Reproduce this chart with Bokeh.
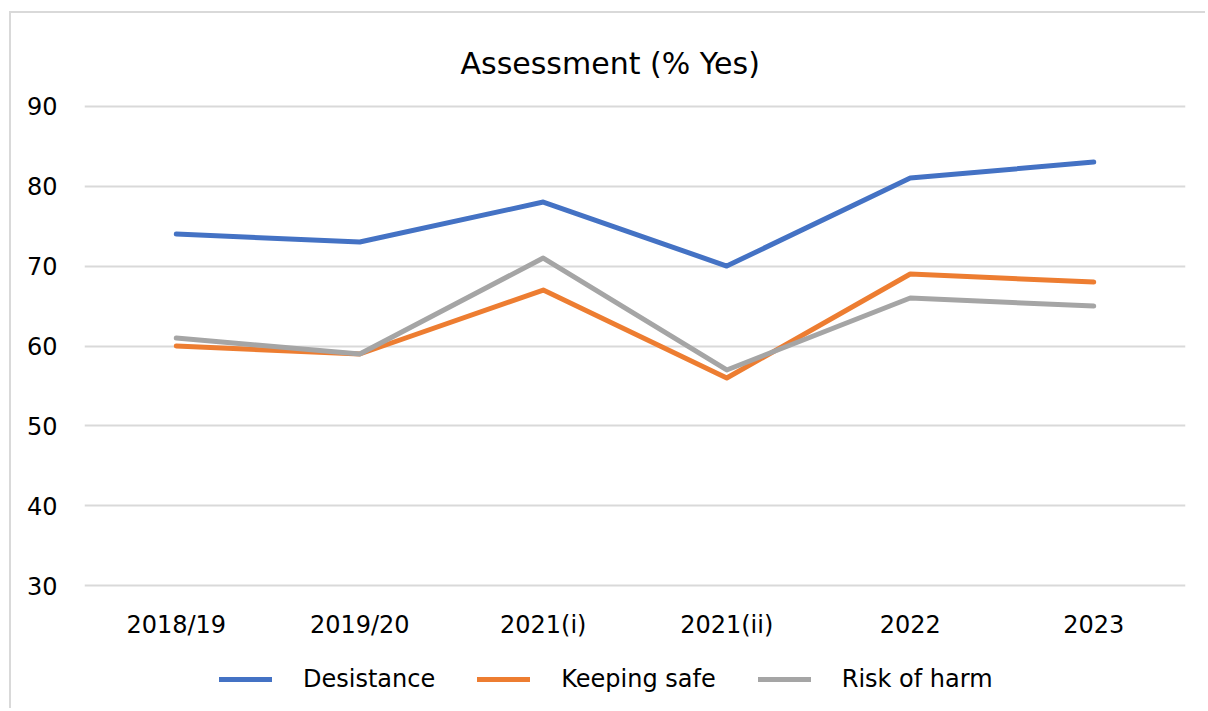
from bokeh.plotting import figure
from bokeh.layouts import column
from bokeh.models import Legend, LegendItem, FactorRange, Range1d, SingleIntervalTicker
from bokeh.embed import file_html
from bokeh.resources import INLINE

categories = ["2018/19", "2019/20", "2021(i)", "2021(ii)", "2022", "2023"]
desistance = [74, 73, 78, 70, 81, 83]
keeping_safe = [60, 59, 67, 56, 69, 68]
risk_of_harm = [61, 59, 71, 57, 66, 65]
series_names = ["Desistance", "Keeping safe", "Risk of harm"]
colors = ["#4472C4", "#ED7D31", "#A5A5A5"]

FONT = "DejaVu Sans"
W = 1205

p = figure(
    x_range=FactorRange(*categories, range_padding=0),
    y_range=Range1d(29.8, 90.2),
    width=W, height=650,
    output_backend="svg", toolbar_location=None,
    title="Assessment (% Yes)",
    min_border_left=84, min_border_right=W - 1185, min_border_top=104, min_border_bottom=63,
)
p.outline_line_color = None
p.background_fill_color = "white"
p.border_fill_alpha = 0

p.title.align = "left"
p.title.text_font = FONT
p.title.text_font_size = "30px"
p.title.text_font_style = "normal"
p.title.text_color = "#000000"
p.title.standoff = 47
p.title.offset = 376

p.xgrid.grid_line_color = None
p.ygrid.grid_line_color = "#d9d9d9"
p.ygrid.grid_line_width = 2
p.yaxis.ticker = SingleIntervalTicker(interval=10)

for ax in (p.xaxis, p.yaxis):
    ax.axis_line_color = None
    ax.major_tick_line_color = None
    ax.minor_tick_line_color = None
    ax.major_tick_in = 0
    ax.major_tick_out = 0
    ax.major_label_text_font = FONT
    ax.major_label_text_font_size = "24px"
    ax.major_label_text_color = "#000000"
p.yaxis.major_label_standoff = 23
p.xaxis.major_label_standoff = 23

# legend strip as its own small figure
lf = figure(width=W, height=58, x_range=Range1d(0, W), y_range=Range1d(0, 58),
            output_backend="svg", toolbar_location=None,
            x_axis_location=None, y_axis_location=None,
            min_border_left=0, min_border_right=0, min_border_top=0, min_border_bottom=0)
lf.grid.visible = False
lf.outline_line_color = None
lf.border_fill_alpha = 0
lf.background_fill_alpha = 0

items = []
for name, vals, c in zip(series_names, [desistance, keeping_safe, risk_of_harm], colors):
    p.line(categories, vals, line_color=c, line_width=5, line_cap="round", line_join="round")
    r = lf.line([-100, -90], [-100, -100], line_color=c, line_width=5, line_cap="round")
    items.append(LegendItem(label=name, renderers=[r]))

legend = Legend(items=items, orientation="horizontal", location=(135, 15))
legend.label_text_font = FONT
legend.label_text_font_size = "24px"
legend.label_text_color = "#000000"
legend.glyph_width = 53
legend.label_standoff = 31
legend.spacing = 42
legend.border_line_color = None
legend.background_fill_alpha = 0
legend.padding = 0
legend.margin = 0
lf.add_layout(legend, "center")

layout = column(p, lf, styles={
    "background": "linear-gradient(#d9d9d9, #d9d9d9) 9px 11px / 2px 700px no-repeat, "
                  "linear-gradient(#d9d9d9, #d9d9d9) 9px 11px / 1196px 2px no-repeat, white"
})
open("out.html", "w").write(file_html(layout, INLINE))
